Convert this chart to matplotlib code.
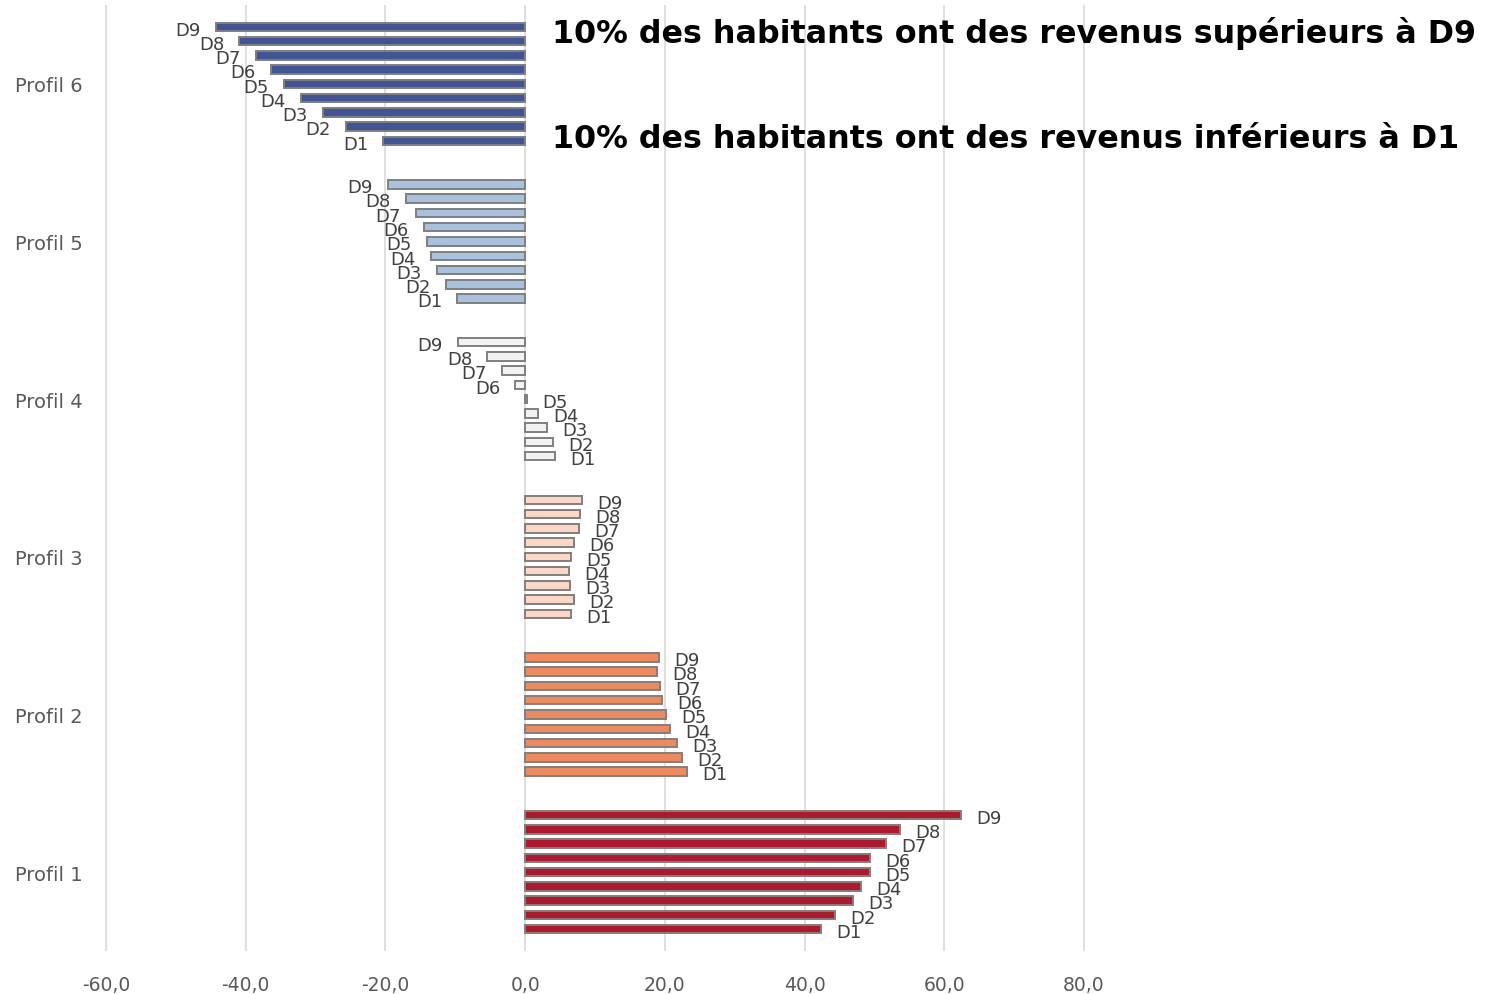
import matplotlib.pyplot as plt
import numpy as np

# donnees (profil 1 en bas, profil 6 en haut)
profils = ["Profil 1", "Profil 2", "Profil 3", "Profil 4", "Profil 5", "Profil 6"]
deciles = ["D1", "D2", "D3", "D4", "D5", "D6", "D7", "D8", "D9"]

profil1 = [42.3, 44.4, 47.0, 48.1, 49.3, 49.3, 51.6, 53.7, 62.4]
profil2 = [23.2, 22.4, 21.8, 20.8, 20.2, 19.6, 19.3, 18.9, 19.2]
profil3 = [6.6, 7.0, 6.4, 6.3, 6.5, 7.0, 7.7, 7.9, 8.1]
profil4 = [4.3, 4.0, 3.1, 1.9, 0.3, -1.4, -3.3, -5.4, -9.6]
profil5 = [-9.7, -11.4, -12.6, -13.5, -14.0, -14.5, -15.6, -17.1, -19.6]
profil6 = [-20.3, -25.6, -28.9, -32.1, -34.5, -36.4, -38.5, -40.9, -44.3]

couleurs = ["#B2182B", "#F08A5D", "#FCD7C6", "#F2F2F2", "#A7C2E1", "#3F5597"]
ticks_x = [-60, -40, -20, 0, 20, 40, 60, 80]

valeurs = [profil1, profil2, profil3, profil4, profil5, profil6]

fig = plt.figure(figsize=(14.99, 9.95), dpi=100)
ax = fig.add_axes([105/1499, 1-952/995, (1085-105)/1499, (952-6)/995])

pas = 0.0905
for p, vals in enumerate(valeurs):
    for i, v in enumerate(vals):
        y = p + (i - 4) * pas
        ax.barh(y, v, height=0.054, color=couleurs[p], edgecolor="#7F7F7F",
                linewidth=1.4, zorder=3)
        if v >= 0:
            ax.annotate(deciles[i], (v, y), xytext=(11, -2), textcoords="offset points",
                        ha="left", va="center", fontsize=13, color="#404040")
        else:
            ax.annotate(deciles[i], (v, y), xytext=(-11, -2), textcoords="offset points",
                        ha="right", va="center", fontsize=13, color="#404040")

ax.set_xlim(-60.15, 80.15)
ax.set_ylim(-0.5, 5.5)
ax.set_xticks(ticks_x)
ax.set_xticklabels([f"{t:.1f}".replace(".", ",") for t in ticks_x], fontsize=13.5, color="#595959")
ax.set_yticks(range(len(profils)))
ax.set_yticklabels(profils, fontsize=14, color="#595959")
ax.tick_params(axis="both", length=0)
ax.tick_params(axis="x", pad=17)
ax.tick_params(axis="y", pad=16)
ax.grid(axis="x", color="#D9D9D9", linewidth=1.2, zorder=0)
ax.set_axisbelow(True)
for s in ax.spines.values():
    s.set_visible(False)

fig.text(552/1499, 1-33/995, "10% des habitants ont des revenus supérieurs à D9",
         fontsize=22.9, fontweight="bold", va="center", ha="left")
fig.text(552/1499, 1-140/995, "10% des habitants ont des revenus inférieurs à D1",
         fontsize=22.9, fontweight="bold", va="center", ha="left")

fig.savefig("out.png", dpi=100)
